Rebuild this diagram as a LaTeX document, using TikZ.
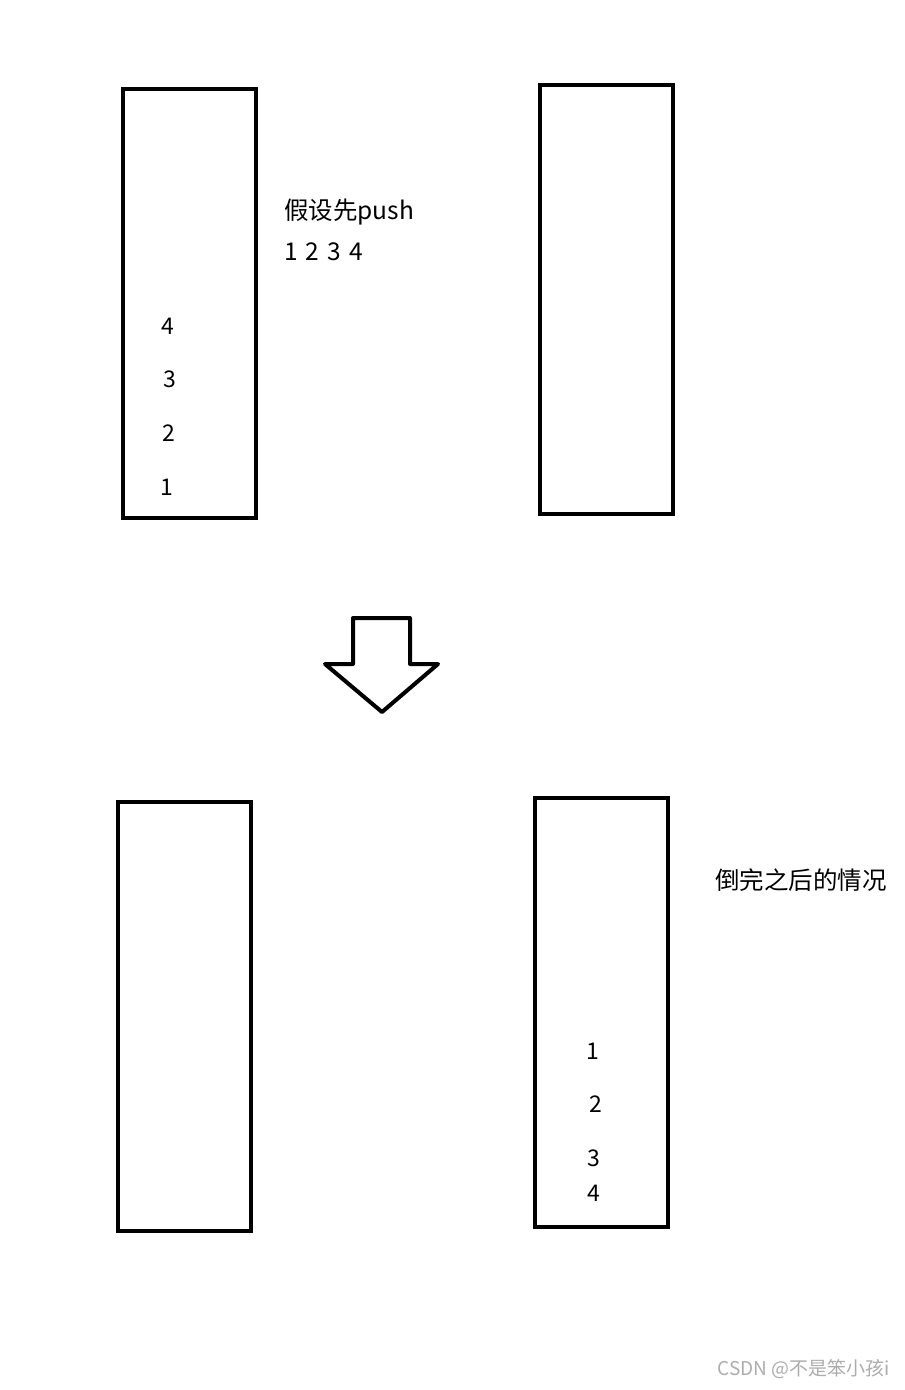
\documentclass[tikz,border=0pt]{standalone}
\usepackage{fontspec}
\setmainfont{Noto Sans CJK SC}
\begin{document}
\begin{tikzpicture}[x=1pt,y=-1pt,
  stack/.style={draw,line width=4pt,minimum width=133pt,minimum height=429pt,inner sep=0pt},
  num/.style={font=\fontsize{23}{27}\selectfont,inner sep=0pt},
  note/.style={font=\fontsize{24.5}{29}\selectfont,anchor=west,inner sep=0pt}]
\useasboundingbox (0,0) rectangle (905,1390);
\node[stack] (a1) at (189.5,303.5) {};
\node[stack] (b1) at (606.5,299.5) {};
\node[stack] (a2) at (184.5,1016.5) {};
\node[stack] (b2) at (601.5,1012) {};
\node[note] (t1) at (284,212) {假设先push};
\node[note] (t2) at (284,252) {1\,\,2\,\,3\,\,4};
\node[note] (t3) at (715,880) {倒完之后的情况};
\node[num] (a14) at (168,326) {4};
\node[num] (a13) at (170,379) {3};
\node[num] (a12) at (169,433) {2};
\node[num] (a11) at (167,487) {1};
\node[num] (b21) at (593,1051) {1};
\node[num] (b22) at (596,1104) {2};
\node[num] (b23) at (594,1158) {3};
\node[num] (b24) at (594,1193) {4};
\draw[line width=4pt,line join=round] (353,618) -- (410,618) -- (410,664) -- (438,664) -- (382,712) -- (325,664) -- (353,664) -- cycle;
\node[font=\fontsize{19}{22}\selectfont,text=gray!65,anchor=east,inner sep=0pt] (mark) at (890,1369) {CSDN @不是笨小孩i};
\end{tikzpicture}
\end{document}
